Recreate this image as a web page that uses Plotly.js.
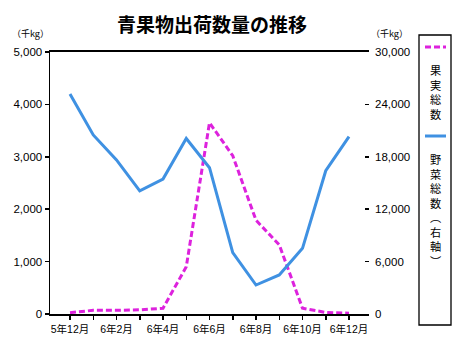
<!DOCTYPE html>
<html>
<head>
<meta charset="utf-8">
<script src="https://cdn.plot.ly/plotly-3.0.1.min.js"></script>
<style>html,body{margin:0;padding:0;background:#fff;}#chart{width:470px;height:356px;}</style>
</head>
<body>
<div id="chart"></div>
<script>
// ---- data ----
const months = ['5年12月','6年1月','6年2月','6年3月','6年4月','6年5月','6年6月','6年7月','6年8月','6年9月','6年10月','6年11月','6年12月'];
const tickLabels = ['5年12月','','6年2月','','6年4月','','6年6月','','6年8月','','6年10月','','6年12月'];
const fruitTotal = [25, 70, 70, 80, 110, 900, 3650, 3020, 1790, 1320, 110, 30, 15];          // 果実総数 (left axis)
const vegTotal = [25200, 20500, 17650, 14100, 15450, 20100, 16750, 7020, 3320, 4470, 7520, 16400, 20300]; // 野菜総数 (right axis)
const leftTicks = [0, 1000, 2000, 3000, 4000, 5000];
const rightTicks = [0, 6000, 12000, 18000, 24000, 30000];
const fruitLegend = ['果','実','総','数'];
const vegLegend = ['野','菜','総','数','︵','右','軸','︶'];

const idx = months.map((m, i) => i);
const fmt = v => v.toLocaleString('en-US');

// pixel -> paper helpers (plot area: x 50..369, y 52..314)
const PL = 50, PR = 369, PT = 52, PB = 314;
const px = x => (x - PL) / (PR - PL);
const py = y => (PB - y) / (PB - PT);

const BLUE = '#3F91E2', MAG = '#DD22DD';
const FONT = 'Liberation Sans, Arial, Noto Sans CJK JP, sans-serif';

const traces = [
  {x: idx, y: vegTotal, yaxis: 'y2', type: 'scatter', mode: 'lines', name: '野菜総数（右軸）',
   line: {color: BLUE, width: 3}, hoverinfo: 'skip'},
  {x: idx, y: fruitTotal, yaxis: 'y', type: 'scatter', mode: 'lines', name: '果実総数',
   line: {color: MAG, width: 3, dash: '6px,3px'}, hoverinfo: 'skip'}
];

const annotations = [];
function vtext(chars, x, yTop) {
  annotations.push({
    text: chars.join('<br>'), xref: 'paper', yref: 'paper', x: px(x), y: py(yTop),
    xanchor: 'center', yanchor: 'top', showarrow: false, borderpad: 0,
    font: {family: 'Noto Sans CJK JP, sans-serif', size: 11.2, color: '#000'}
  });
}
vtext(fruitLegend, 435, 61);
vtext(vegLegend, 435, 150);
annotations.push({text: '（千kg）', xref: 'paper', yref: 'paper', x: px(30), y: py(33),
  xanchor: 'center', yanchor: 'middle', showarrow: false,
  font: {family: 'Noto Sans CJK JP, sans-serif', size: 9, color: '#000'}});
annotations.push({text: '（千kg）', xref: 'paper', yref: 'paper', x: px(389), y: py(33),
  xanchor: 'center', yanchor: 'middle', showarrow: false,
  font: {family: 'Noto Sans CJK JP, sans-serif', size: 9, color: '#000'}});

const shapes = [
  {type: 'rect', xref: 'paper', yref: 'paper', x0: px(419), x1: px(451), y0: py(325), y1: py(35),
   line: {color: '#000', width: 1.3}, fillcolor: 'rgba(0,0,0,0)'},
  {type: 'line', xref: 'paper', yref: 'paper', x0: px(425), x1: px(446), y0: py(47), y1: py(47),
   line: {color: MAG, width: 3, dash: '6px,3px'}},
  {type: 'line', xref: 'paper', yref: 'paper', x0: px(425), x1: px(446), y0: py(136), y1: py(136),
   line: {color: BLUE, width: 3}}
];

const layout = {
  width: 470, height: 356,
  margin: {l: PL, r: 470 - PR, t: PT, b: 356 - PB, pad: 0},
  paper_bgcolor: '#fff', plot_bgcolor: '#fff',
  showlegend: false,
  title: {text: '<b>青果物出荷数量の推移</b>', x: 212 / 470, xanchor: 'center', xref: 'container',
    y: 1 - 25 / 356, yanchor: 'middle', yref: 'container',
    font: {family: 'Noto Sans CJK JP, sans-serif', size: 19, color: '#000'}},
  xaxis: {type: 'linear', range: [-0.86, 12.86], tickvals: idx, ticktext: tickLabels,
    showgrid: false, zeroline: false, showline: true, linecolor: '#000', linewidth: 2, mirror: true,
    ticks: 'outside', ticklen: 4, tickwidth: 1.5, tickcolor: '#000',
    tickfont: {family: 'Liberation Sans, Noto Sans CJK JP, sans-serif', size: 10.5, color: '#000'}},
  yaxis: {range: [0, 5000], tickvals: leftTicks, ticktext: leftTicks.map(fmt),
    showgrid: false, zeroline: false, showline: true, linecolor: '#000', linewidth: 1.5,
    ticks: 'outside', ticklen: 4, tickwidth: 1.5, tickcolor: '#000',
    tickfont: {family: FONT, size: 11.5, color: '#000'}},
  yaxis2: {range: [0, 30000], overlaying: 'y', side: 'right', tickvals: rightTicks, ticktext: rightTicks.map(fmt),
    showgrid: false, zeroline: false, showline: false,
    ticks: 'inside', ticklen: 4, tickwidth: 1.5, tickcolor: '#000', ticklabelstandoff: 5,
    tickfont: {family: FONT, size: 11.5, color: '#000'}},
  annotations: annotations,
  shapes: shapes
};

Plotly.newPlot('chart', traces, layout, {displayModeBar: false, staticPlot: true});
</script>
</body>
</html>
